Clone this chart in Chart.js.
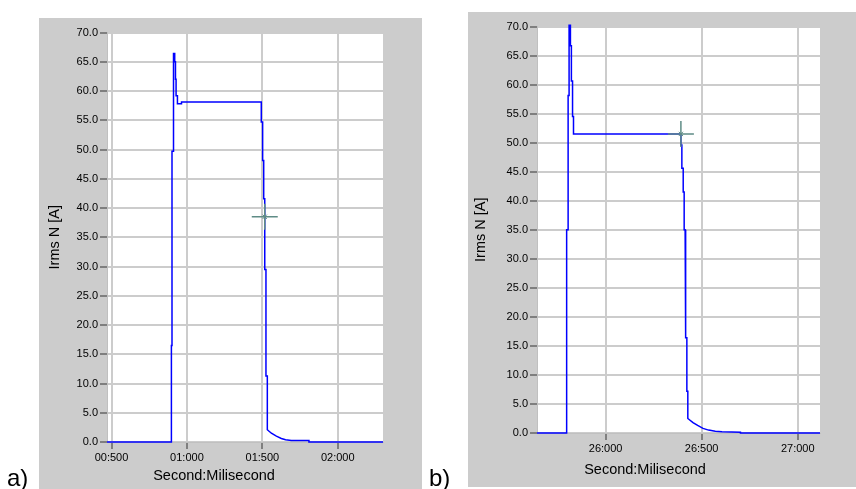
<!DOCTYPE html>
<html>
<head>
<meta charset="utf-8">
<script src="https://cdn.jsdelivr.net/npm/chart.js@4.4.1/dist/chart.umd.min.js"></script>
<style>
  body { margin: 0; background: #fff; width: 856px; height: 489px; position: relative; overflow: hidden;
         font-family: "Liberation Sans", Arial, sans-serif; }
  .panel { position: absolute; background: #cccccc; }
  .panel canvas { position: absolute; left: 0; top: 0; }
  .xtitle { position: absolute; width: 200px; text-align: center; font-size: 14.5px; line-height: 20px; color: #000; }
  .tag { position: absolute; font-size: 24px; line-height: 24px; color: #000; }
</style>
</head>
<body>
<div class="panel" style="left:39px; top:18px; width:383px; height:471px;"><canvas id="chartA" width="383" height="471"></canvas></div>
<div class="panel" style="left:468px; top:12px; width:388px; height:475px;"><canvas id="chartB" width="388" height="475"></canvas></div>
<div class="xtitle" style="left:114px; top:465px;">Second:Milisecond</div>
<div class="xtitle" style="left:545px; top:459px;">Second:Milisecond</div>
<div class="tag" style="left:7px; top:466px;">a)</div>
<div class="tag" style="left:429px; top:466px;">b)</div>

<script>
// a) time in ms, Irms N in A
var timeA = [470, 897, 897, 901, 901, 911, 911, 919, 919, 924, 924, 928, 928, 937, 937, 964, 964,
  1493, 1493, 1502, 1502, 1509, 1509, 1516, 1516, 1524, 1524, 1533, 1533,
  1560, 1593, 1626, 1654, 1692, 1809, 1809, 2300];
var irmsA = [0, 0, 16.5, 16.5, 49.7, 49.7, 66.4, 66.4, 65.0, 65.0, 62.0, 62.0, 59.2, 59.2, 57.8, 57.8, 58.1,
  58.1, 54.7, 54.7, 48.1, 48.1, 41.6, 41.6, 29.5, 29.5, 11.3, 11.3, 2.1,
  1.5, 1.0, 0.6, 0.4, 0.25, 0.25, 0, 0];
var cursorA = [1516, 38.5];
var xRangeA = [470, 2300];
var xTicksA = [500, 1000, 1500, 2000];

// b)
var timeB = [25643, 25794, 25794, 25799, 25799, 25805, 25805, 25810, 25810, 25817, 25817, 25822, 25822,
  25828, 25828, 25833, 25833, 26392, 26392, 26397, 26397, 26404, 26404, 26409, 26409, 26414, 26414,
  26418, 26418, 26423, 26423, 26428, 26428, 26455, 26479, 26507, 26536, 26571, 26606,
  26702, 26702, 27116];
var irmsB = [0, 0, 11.6, 11.6, 35.0, 35.0, 58.1, 58.1, 76.0, 76.0, 66.7, 66.7, 60.6,
  60.6, 54.5, 54.5, 51.5, 51.5, 49.6, 49.6, 45.6, 45.6, 41.5, 41.5, 35.0, 35.0,
  25.8, 25.8, 16.4, 16.4, 7.2, 7.2, 2.5, 1.8, 1.3, 0.8, 0.5, 0.3, 0.2,
  0.15, 0, 0];
var cursorB = [26392, 51.5];
var xRangeB = [25643, 27116];
var xTicksB = [26000, 26500, 27000];

var yRange = [0, 70];

Chart.defaults.font.family = '"Liberation Sans", Arial, sans-serif';

var plotBackground = {
  id: 'plotBackground',
  beforeDraw: function (chart) {
    var ctx = chart.ctx, a = chart.chartArea;
    ctx.save();
    ctx.fillStyle = '#ffffff';
    ctx.fillRect(a.left, a.top, a.right - a.left, a.bottom - a.top);
    ctx.restore();
  }
};

function pad(n, len) {
  var s = String(n);
  while (s.length < len) s = '0' + s;
  return s;
}

function formatTime(v) {
  return pad(Math.floor(v / 1000), 2) + ':' + pad(v % 1000, 3);
}

function createChart(id, times, irms, cursor, xRange, xTicks, box) {
  var trace = times.map(function (t, i) {
    return { x: t, y: irms[i] };
  });
  var cursorPoint = [{ x: cursor[0], y: cursor[1] }];

  new Chart(document.getElementById(id), {
    type: 'scatter',
    data: {
      datasets: [
        { data: cursorPoint, pointStyle: 'cross', pointRadius: 13, borderColor: '#5f8c86',
          borderWidth: 1.5, backgroundColor: 'transparent' },
        { data: cursorPoint, pointStyle: 'crossRot', pointRadius: 3, borderColor: '#5f8c86',
          borderWidth: 1, backgroundColor: 'transparent' },
        { data: trace, showLine: true, pointRadius: 0, borderColor: '#0000ff', borderWidth: 1.5, clip: 2 }
      ]
    },
    options: {
      responsive: false,
      animation: false,
      events: [],
      layout: { padding: { top: box.top, right: box.right, left: 0, bottom: 0 } },
      plugins: { legend: { display: false }, tooltip: { enabled: false } },
      scales: {
        x: {
          type: 'linear',
          min: xRange[0],
          max: xRange[1],
          afterBuildTicks: function (scale) {
            scale.ticks = xTicks.map(function (v) { return { value: v }; });
          },
          afterFit: function (scale) { scale.height = box.xAxis; },
          grid: { color: '#cccccc', lineWidth: 2, tickColor: '#333', tickWidth: 1, tickLength: 7 },
          border: { color: '#c0c0c0', width: 1 },
          ticks: { font: { size: 11 }, color: '#000', padding: 2, maxRotation: 0, callback: formatTime }
        },
        y: {
          min: yRange[0],
          max: yRange[1],
          afterFit: function (scale) { scale.width = box.yAxis; },
          grid: { color: '#cccccc', lineWidth: 2, tickColor: '#333', tickWidth: 1, tickLength: 7 },
          border: { color: '#c0c0c0', width: 1 },
          ticks: {
            stepSize: 5, font: { size: 11 }, color: '#000', padding: 2,
            callback: function (v) { return v.toFixed(1); }
          },
          title: {
            display: true, text: 'Irms N [A]', color: '#000', font: { size: 14.5 },
            padding: { top: box.titlePad, bottom: 0 }
          }
        }
      }
    },
    plugins: [plotBackground]
  });
}

createChart('chartA', timeA, irmsA, cursorA, xRangeA, xTicksA,
  { top: 10, right: 39, yAxis: 68, xAxis: 47, titlePad: 7 });
createChart('chartB', timeB, irmsB, cursorB, xRangeB, xTicksB,
  { top: 12, right: 36, yAxis: 69, xAxis: 54, titlePad: 4 });
</script>
</body>
</html>
